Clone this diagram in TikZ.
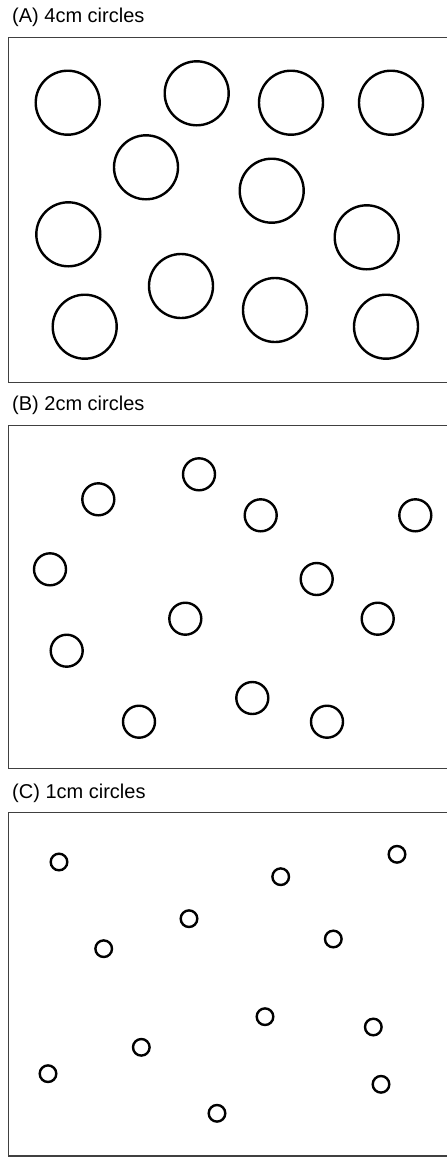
\documentclass[tikz,border=0pt]{standalone}
\usepackage{fontspec}
\setmainfont{Liberation Sans}
\usetikzlibrary{positioning}

\begin{document}
\begin{tikzpicture}[x=1pt,y=-1pt, frame/.style={line width=1.5pt, draw=black!75}, ring/.style={line width=2.4pt}, lab/.style={anchor=base west, inner sep=0pt, font=\fontsize{20}{22}\selectfont}]
\useasboundingbox (0,0) rectangle (447,1157);
% A
\node[lab] (labA) at (12,22.7) {(A) 4cm circles};
\draw[frame] (448,37.3) -- (8.5,37.3) -- (8.5,382.3) -- (448,382.3);
\foreach \cx/\cy in {67.7/102.7, 196.7/93.3, 291/102.7, 391/102.7, 146/167.3, 271.7/190.7, 68.3/234.3, 366.7/237.3, 181/286, 275/310, 84.7/326.7, 386/326.7} { \draw[ring] (\cx,\cy) circle (32); }
% B
\node[lab] (labB) at (12,410.7) {(B) 2cm circles};
\draw[frame] (448,425.7) -- (8.5,425.7) -- (8.5,768.3) -- (448,768.3);
\foreach \cx/\cy in {199/474.3, 98.3/499.3, 260.7/515.3, 415.3/515.3, 50/569.3, 316.7/579, 185.3/618.7, 377.7/618.7, 66.7/650.7, 252.3/698, 139/721.7, 327/721.7} { \draw[ring] (\cx,\cy) circle (16); }
% C
\node[lab] (labC) at (12,798.3) {(C) 1cm circles};
\draw[frame] (448,812.7) -- (8.5,812.7) -- (8.5,1156) -- (448,1156);
\foreach \cx/\cy in {59/862, 397/854.3, 280.7/876.7, 189/918.7, 333.3/939, 103.7/948.7, 265/1016.7, 373.3/1027, 141.3/1047.3, 48/1073.7, 381/1084.3, 217/1113.3} { \draw[ring] (\cx,\cy) circle (8.3); }
\end{tikzpicture}
\end{document}
